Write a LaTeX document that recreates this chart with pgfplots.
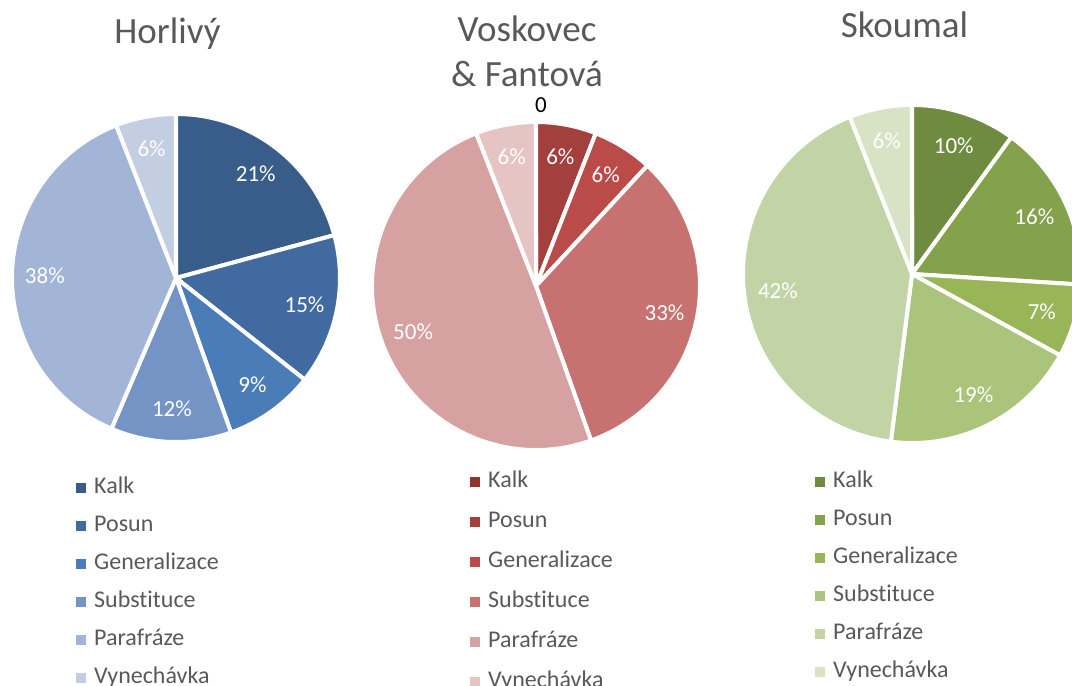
\documentclass[border=0pt]{standalone}
\usepackage{pgfplots}
\usepackage{pgfplotstable}
\pgfplotsset{compat=1.18}
\usepackage{fontspec}
\setmainfont{Carlito}[Ligatures=NoCommon]

\definecolor{tgray}{HTML}{595959}
\definecolor{H0}{HTML}{385D8A}
\definecolor{H1}{HTML}{416BA0}
\definecolor{H2}{HTML}{4A7CB7}
\definecolor{H3}{HTML}{7494C6}
\definecolor{H4}{HTML}{A2B5D6}
\definecolor{H5}{HTML}{C3CEE3}
\definecolor{V0}{HTML}{8E3532}
\definecolor{V1}{HTML}{A33F3C}
\definecolor{V2}{HTML}{BA4B48}
\definecolor{V3}{HTML}{C77270}
\definecolor{V4}{HTML}{D6A2A1}
\definecolor{V5}{HTML}{E5C4C3}
\definecolor{S0}{HTML}{6F8B3F}
\definecolor{S1}{HTML}{84A14C}
\definecolor{S2}{HTML}{98B658}
\definecolor{S3}{HTML}{AAC47B}
\definecolor{S4}{HTML}{C2D3A5}
\definecolor{S5}{HTML}{D8E3C6}

% shares in percent, order: Kalk, Posun, Generalizace, Substituce, Parafraze, Vynechavka
\pgfplotstableread{
v
21
15
9
12
38
6
}\tabH
\pgfplotstableread{
v
0
6
6
33
50
6
}\tabV
\pgfplotstableread{
v
10
16
7
19
42
6
}\tabS

\tikzset{
  pct/.style={font=\fontsize{23}{23}\selectfont, text=white, inner sep=0pt},
  zerolab/.style={font=\fontsize{23}{23}\selectfont, text=black, inner sep=0pt},
  ttl/.style={font=\fontsize{37}{46}\selectfont, text=tgray, anchor=base, inner sep=0pt, align=center},
}

\pgfplotsset{
  legend image code/.code={\fill[#1, draw=none] (0pt,-5pt) rectangle (10pt,5pt); \path (18pt,0pt);},
  pieaxis/.style={at={(0,0)}, anchor=south west, width=1072pt, height=686pt,
    scale only axis, xmin=0, xmax=1072, ymin=0, ymax=686, hide axis, clip=false,
    legend cell align=left},
  pieleg/.style n args={3}{legend style={at={(axis description cs:#1,#2)}, anchor=north west,
    draw=none, fill=none, inner sep=0pt, outer sep=0pt, row sep=#3,
    font=\fontsize{24}{24}\selectfont, text=tgray,
    nodes={inner sep=0pt, text height=16pt, text depth=5pt}}},
}

% #1 table, #2 cx, #3 cy, #4 r, #5 colour prefix
\newcommand\drawpie[5]{%
  \def\tot{0}%
  \pgfplotsforeachungrouped \i in {0,...,5}{%
    \pgfplotstablegetelem{\i}{v}\of{#1}%
    \pgfmathsetmacro\tot{\tot+\pgfplotsretval}%
  }%
  \def\ang{90}%
  \pgfplotsforeachungrouped \i in {0,...,5}{%
    \pgfplotstablegetelem{\i}{v}\of{#1}\let\v\pgfplotsretval
    \pgfmathsetmacro\angb{\ang-\v/\tot*360}%
    \edef\cmd{\noexpand\fill[#5\i, draw=white, line width=4pt, line join=round]
      (axis cs:#2,#3) -- ++(\ang:#4pt) arc[start angle=\ang, end angle=\angb, radius=#4pt] -- cycle;}%
    \cmd
    \let\ang\angb
  }%
  \def\ang{90}%
  \pgfplotsforeachungrouped \i in {0,...,5}{%
    \pgfplotstablegetelem{\i}{v}\of{#1}\let\v\pgfplotsretval
    \pgfmathsetmacro\angb{\ang-\v/\tot*360}%
    \pgfmathsetmacro\mid{(\ang+\angb)/2}%
    \ifdim\v pt=0pt
      \pgfmathsetmacro\lx{#2+(#4+17)*cos(\mid)+5}%
      \pgfmathsetmacro\ly{#3+(#4+17)*sin(\mid)}%
      \edef\cmd{\noexpand\node[zerolab] at (axis cs:\lx,\ly) {\v};}%
    \else
      \pgfmathsetmacro\lx{#2+0.8*#4*cos(\mid)}%
      \pgfmathsetmacro\ly{#3+0.8*#4*sin(\mid)}%
      \edef\cmd{\noexpand\node[pct] at (axis cs:\lx,\ly) {\v\noexpand\%};}%
    \fi
    \cmd
    \let\ang\angb
  }%
}

\begin{document}
\begin{tikzpicture}
% ---------- Horlivy ----------
\begin{axis}[pieaxis, pieleg={76/1072}{209/686}{17pt}]
  \addlegendimage{fill=H0}\addlegendentry{Kalk}
  \addlegendimage{fill=H1}\addlegendentry{Posun}
  \addlegendimage{fill=H2}\addlegendentry{Generalizace}
  \addlegendimage{fill=H3}\addlegendentry{Substituce}
  \addlegendimage{fill=H4}\addlegendentry{Parafráze}
  \addlegendimage{fill=H5}\addlegendentry{Vynechávka}
  \drawpie{\tabH}{176}{408}{164}{H}
  \node[ttl] at (axis cs:167.5,642) {Horlivý};
\end{axis}
% ---------- Voskovec & Fantova ----------
\begin{axis}[pieaxis, pieleg={470/1072}{215/686}{19pt}]
  \addlegendimage{fill=V0}\addlegendentry{Kalk}
  \addlegendimage{fill=V1}\addlegendentry{Posun}
  \addlegendimage{fill=V2}\addlegendentry{Generalizace}
  \addlegendimage{fill=V3}\addlegendentry{Substituce}
  \addlegendimage{fill=V4}\addlegendentry{Parafráze}
  \addlegendimage{fill=V5}\addlegendentry{Vynechávka}
  \drawpie{\tabV}{536}{400}{164}{V}
  \node[ttl] at (axis cs:527,644) {Voskovec};
  \node[ttl] at (axis cs:527,599) {\& Fantová};
\end{axis}
% ---------- Skoumal ----------
\begin{axis}[pieaxis, pieleg={815/1072}{215/686}{17pt}]
  \addlegendimage{fill=S0}\addlegendentry{Kalk}
  \addlegendimage{fill=S1}\addlegendentry{Posun}
  \addlegendimage{fill=S2}\addlegendentry{Generalizace}
  \addlegendimage{fill=S3}\addlegendentry{Substituce}
  \addlegendimage{fill=S4}\addlegendentry{Parafráze}
  \addlegendimage{fill=S5}\addlegendentry{Vynechávka}
  \drawpie{\tabS}{912}{412}{169}{S}
  \node[ttl] at (axis cs:904.5,648) {Skoumal};
\end{axis}
\pgfresetboundingbox
\useasboundingbox (0,0) rectangle (1072pt,686pt);
\end{tikzpicture}
\end{document}
